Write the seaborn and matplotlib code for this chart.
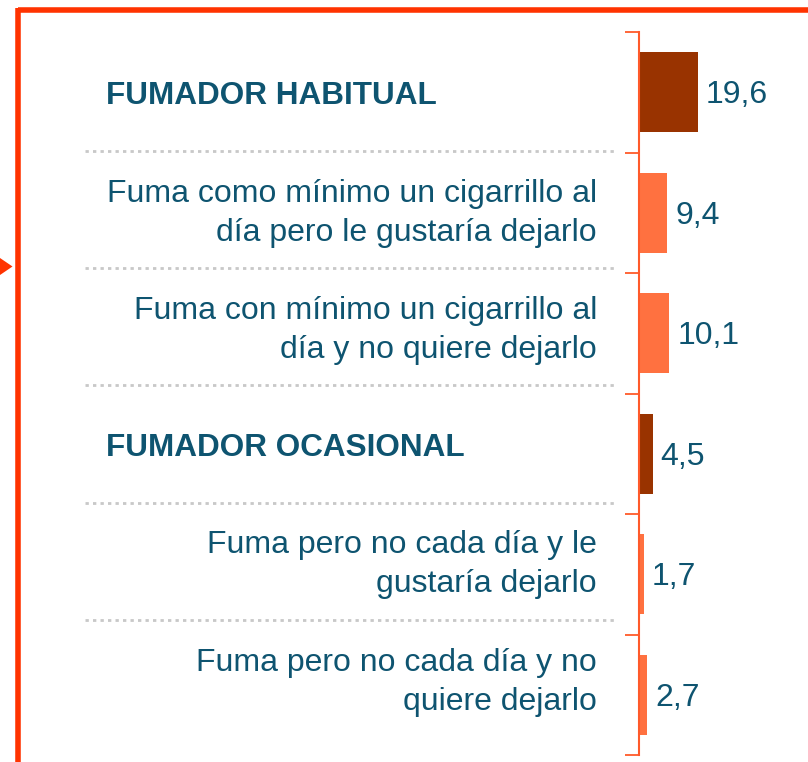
import matplotlib
matplotlib.use("Agg")
import matplotlib.pyplot as plt
import seaborn as sns
import pandas as pd
import numpy as np
from matplotlib.lines import Line2D
from matplotlib.patches import Polygon
import matplotlib.transforms as mtransforms

categories = [
    "FUMADOR HABITUAL",
    "Fuma como mínimo un cigarrillo al\ndía pero le gustaría dejarlo",
    "Fuma con mínimo un cigarrillo al\ndía y no quiere dejarlo",
    "FUMADOR OCASIONAL",
    "Fuma pero no cada día y le\ngustaría dejarlo",
    "Fuma pero no cada día y no\nquiere dejarlo",
]
values = [19.6, 9.4, 10.1, 4.5, 1.7, 2.7]
value_labels = ["19,6", "9,4", "10,1", "4,5", "1,7", "2,7"]
kinds = ["total", "sub", "sub", "total", "sub", "sub"]

DARK = "#993300"
LIGHT = "#FF7140"
TEXT = "#0E5470"
RED = "#FF3300"
AXC = "#FF5A2A"

sns.set_theme(style="white")
plt.rcParams["font.family"] = ["Liberation Sans", "DejaVu Sans"]

W, H = 808, 762
n = len(categories)
fig = plt.figure(figsize=(W / 100, H / 100), dpi=100)

# ---- bar axes ----
ax_left, ax_right = 639, 808
ax_top, ax_bot = 32, 755
ax = fig.add_axes([ax_left / W, 1 - ax_bot / H, (ax_right - ax_left) / W, (ax_bot - ax_top) / H])

df = pd.DataFrame({"cat": categories, "val": values, "kind": kinds})
sns.barplot(data=df, x="val", y="cat", hue="kind", palette={"total": DARK, "sub": LIGHT},
            dodge=False, width=0.66, ax=ax, legend=False, saturation=1, linewidth=0)

px_per_unit = 3.0
ax.set_xlim(0, (ax_right - ax_left) / px_per_unit)
ax.set_ylim(n - 0.5, -0.5)
ax.set_xticks([])
ax.set_yticks(np.arange(-0.5, n, 1.0))
ax.set_yticklabels([])
ax.tick_params(axis="y", direction="out", length=10, width=1.3, color=AXC, left=True)
ax.set_xlabel("")
ax.set_ylabel("")
for s in ["top", "right", "bottom"]:
    ax.spines[s].set_visible(False)
ax.spines["left"].set_color(AXC)
ax.spines["left"].set_linewidth(1.5)
ax.patch.set_alpha(0)

off = mtransforms.offset_copy(ax.transData, fig=fig, x=8, y=-3, units="dots")
for i, (v, lab) in enumerate(zip(values, value_labels)):
    ax.text(v, i, lab, transform=off, ha="left", va="center", fontsize=23, color=TEXT, clip_on=False)

# ---- label axes (text column with its own row grid) ----
row_h = 117.25
lab_top = 151 - row_h
lab_bot = lab_top + n * row_h
axl = fig.add_axes([0, 1 - lab_bot / H, ax_left / W, (lab_bot - lab_top) / H])
axl.set_xlim(0, ax_left)
axl.set_ylim(n - 0.5, -0.5)
axl.axis("off")
axl.patch.set_alpha(0)

toff = mtransforms.offset_copy(axl.transData, fig=fig, x=0, y=-3.5, units="dots")
for i, (c, k) in enumerate(zip(categories, kinds)):
    if k == "total":
        axl.text(106, i, c, transform=toff, ha="left", va="center", fontsize=22.7,
                 fontweight="bold", color=TEXT, clip_on=False)
    else:
        axl.text(597, i, c, transform=toff, ha="right", va="center", fontsize=23,
                 color=TEXT, multialignment="right", linespacing=1.40, clip_on=False)

for b in np.arange(0.5, n - 1, 1.0):
    axl.plot([85, 615], [b, b], color="#C8C8C8", linestyle=(0, (1.2, 1.5)), linewidth=2,
             clip_on=False)

# ---- frame and pointer ----
fig.add_artist(Line2D([17.5 / W, 1], [1 - 9.5 / H, 1 - 9.5 / H], transform=fig.transFigure,
                      color=RED, linewidth=4, solid_capstyle="butt"))
fig.add_artist(Line2D([17.5 / W, 17.5 / W], [1 - 7.5 / H, 0], transform=fig.transFigure,
                      color=RED, linewidth=4, solid_capstyle="butt"))
fig.add_artist(Polygon([[0, 1 - 258 / H], [12.5 / W, 1 - 266.5 / H], [0, 1 - 275 / H]],
                       closed=True, transform=fig.transFigure, color=RED, lw=0))

fig.savefig("out.png", dpi=100)
